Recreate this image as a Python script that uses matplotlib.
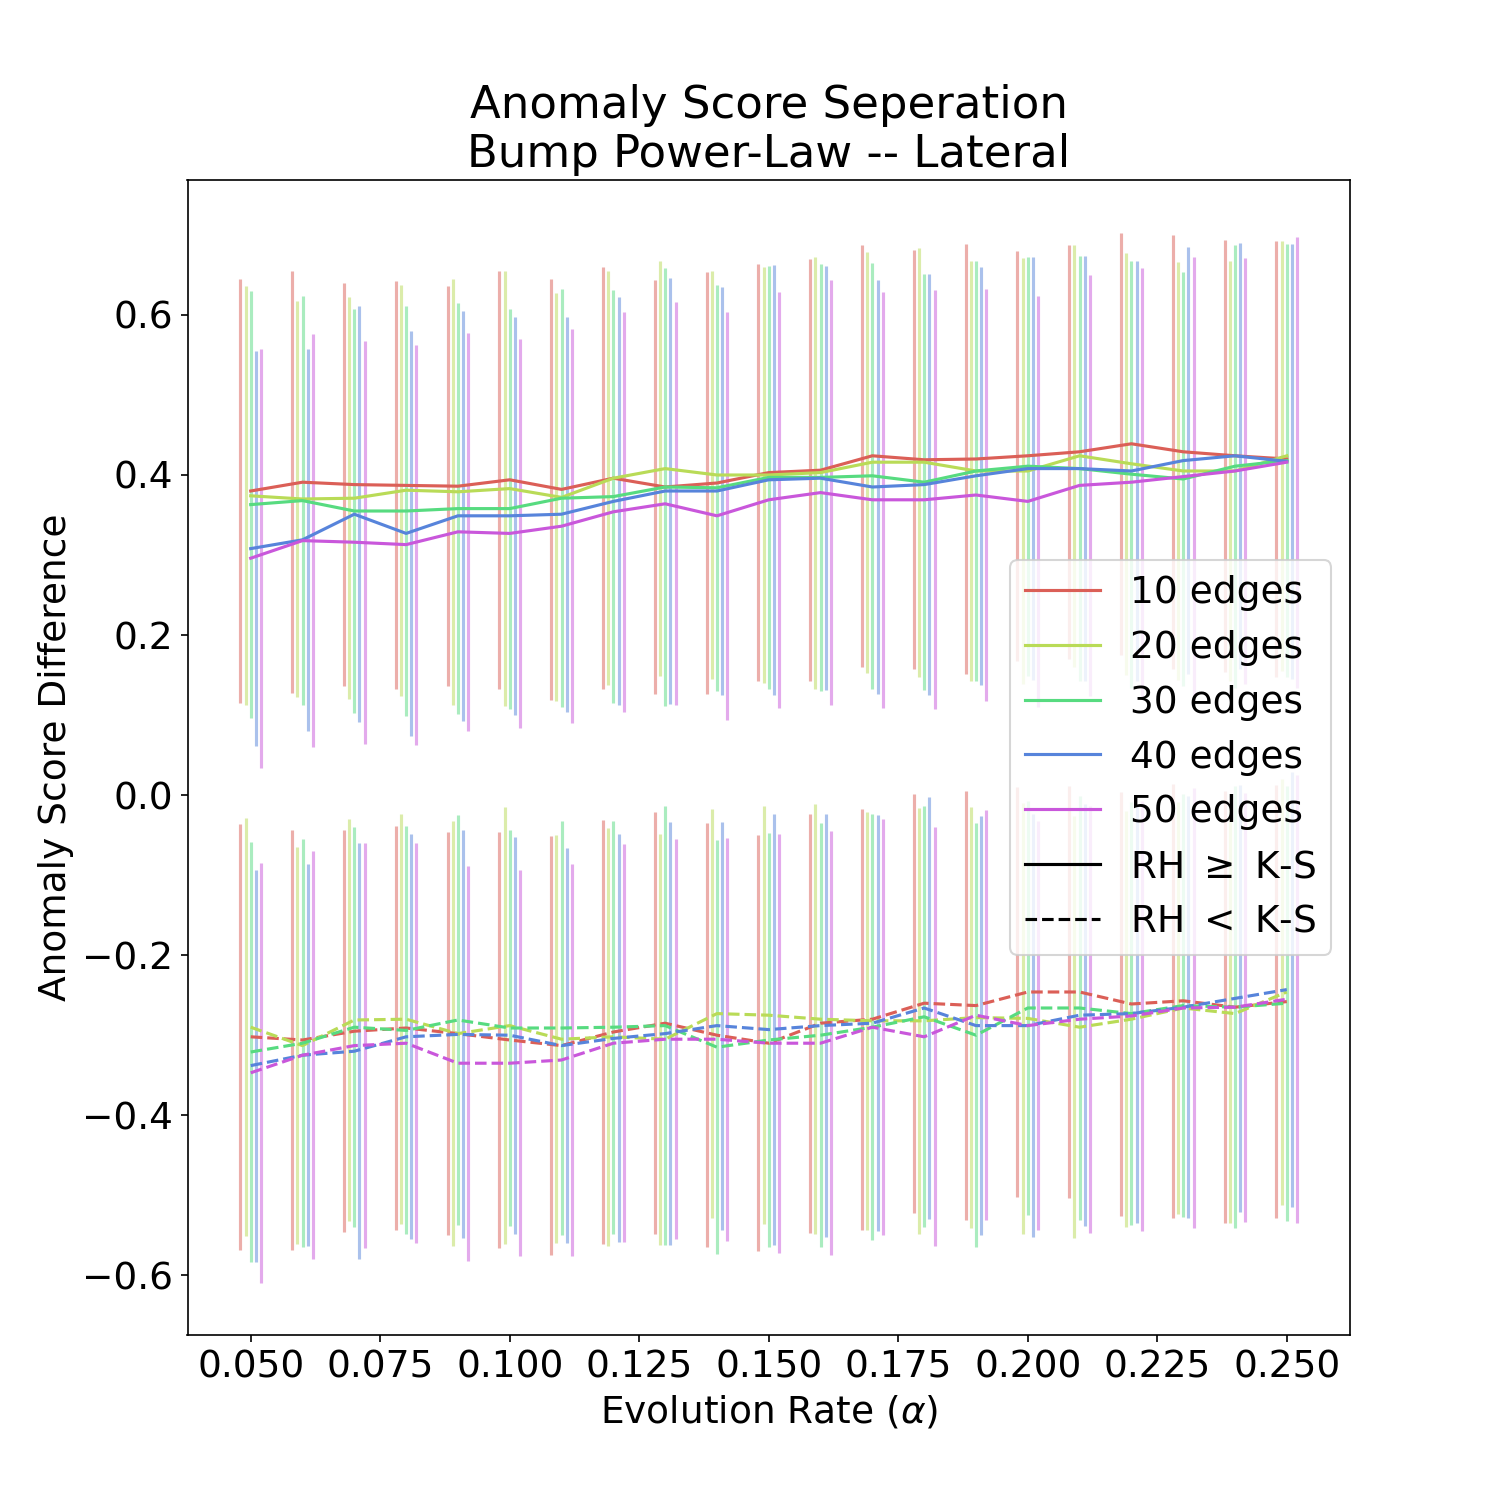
import numpy as np
import matplotlib
matplotlib.use("Agg")
import matplotlib.pyplot as plt
from matplotlib.lines import Line2D

plt.rcParams['font.family'] = ['DejaVu Sans']
plt.rcParams['font.size'] = 18

# Evolution rate values
alphas = [0.05, 0.06, 0.07, 0.08, 0.09, 0.10, 0.11, 0.12, 0.13, 0.14, 0.15,
          0.16, 0.17, 0.18, 0.19, 0.20, 0.21, 0.22, 0.23, 0.24, 0.25]

series_labels = ["10 edges", "20 edges", "30 edges", "40 edges", "50 edges"]
series_colors = ["#db5f57", "#b9db57", "#57db80", "#5784db", "#c957db"]

# RH >= K-S (positive) means
pos_mean_10 = [0.380, 0.391, 0.388, 0.387, 0.386, 0.394, 0.382, 0.396, 0.385, 0.390, 0.403,
               0.406, 0.424, 0.419, 0.420, 0.424, 0.429, 0.439, 0.429, 0.424, 0.420]
pos_mean_20 = [0.374, 0.370, 0.371, 0.381, 0.379, 0.383, 0.372, 0.396, 0.408, 0.400, 0.400,
               0.403, 0.416, 0.416, 0.405, 0.405, 0.424, 0.414, 0.405, 0.405, 0.424]
pos_mean_30 = [0.363, 0.368, 0.355, 0.355, 0.358, 0.358, 0.371, 0.373, 0.385, 0.384, 0.397,
               0.397, 0.399, 0.391, 0.405, 0.411, 0.408, 0.401, 0.395, 0.411, 0.418]
pos_mean_40 = [0.308, 0.319, 0.351, 0.327, 0.349, 0.349, 0.351, 0.367, 0.380, 0.380, 0.394,
               0.396, 0.385, 0.388, 0.399, 0.408, 0.408, 0.405, 0.418, 0.424, 0.417]
pos_mean_50 = [0.296, 0.318, 0.316, 0.313, 0.329, 0.327, 0.336, 0.354, 0.364, 0.349, 0.369,
               0.378, 0.369, 0.369, 0.375, 0.367, 0.387, 0.391, 0.398, 0.405, 0.416]

# RH >= K-S (positive) standard deviations
pos_std_10 = [0.265, 0.264, 0.252, 0.255, 0.250, 0.261, 0.263, 0.264, 0.259, 0.264, 0.261,
              0.264, 0.264, 0.262, 0.269, 0.256, 0.259, 0.264, 0.271, 0.270, 0.272]
pos_std_20 = [0.262, 0.248, 0.251, 0.257, 0.266, 0.272, 0.255, 0.259, 0.259, 0.255, 0.260,
              0.270, 0.263, 0.268, 0.263, 0.266, 0.264, 0.264, 0.261, 0.262, 0.269]
pos_std_30 = [0.267, 0.256, 0.252, 0.256, 0.257, 0.250, 0.261, 0.258, 0.274, 0.254, 0.264,
              0.267, 0.266, 0.260, 0.263, 0.262, 0.266, 0.267, 0.259, 0.277, 0.271]
pos_std_40 = [0.247, 0.239, 0.260, 0.253, 0.256, 0.249, 0.247, 0.255, 0.266, 0.255, 0.269,
              0.265, 0.259, 0.263, 0.261, 0.264, 0.266, 0.263, 0.267, 0.266, 0.272]
pos_std_50 = [0.262, 0.258, 0.252, 0.250, 0.249, 0.243, 0.246, 0.250, 0.252, 0.255, 0.260,
              0.266, 0.260, 0.262, 0.257, 0.257, 0.263, 0.268, 0.274, 0.266, 0.282]

# RH < K-S (negative) means
neg_mean_10 = [-0.302, -0.306, -0.295, -0.291, -0.298, -0.306, -0.313, -0.296, -0.285, -0.300, -0.310,
               -0.285, -0.280, -0.260, -0.263, -0.246, -0.246, -0.261, -0.257, -0.265, -0.258]
neg_mean_20 = [-0.290, -0.313, -0.281, -0.280, -0.298, -0.288, -0.305, -0.302, -0.305, -0.273, -0.275,
               -0.280, -0.282, -0.282, -0.278, -0.279, -0.290, -0.280, -0.266, -0.273, -0.246]
neg_mean_30 = [-0.321, -0.310, -0.290, -0.294, -0.281, -0.291, -0.291, -0.290, -0.288, -0.315, -0.306,
               -0.300, -0.290, -0.277, -0.300, -0.266, -0.266, -0.273, -0.263, -0.265, -0.260]
neg_mean_40 = [-0.338, -0.325, -0.320, -0.302, -0.299, -0.300, -0.313, -0.304, -0.298, -0.288, -0.293,
               -0.288, -0.285, -0.266, -0.288, -0.288, -0.275, -0.273, -0.265, -0.254, -0.243]
neg_mean_50 = [-0.347, -0.325, -0.313, -0.310, -0.335, -0.335, -0.331, -0.310, -0.305, -0.305, -0.310,
               -0.310, -0.290, -0.302, -0.275, -0.288, -0.280, -0.276, -0.266, -0.265, -0.255]

# RH < K-S (negative) standard deviations
neg_std_10 = [0.266, 0.263, 0.251, 0.253, 0.252, 0.260, 0.262, 0.265, 0.264, 0.265, 0.260,
              0.262, 0.263, 0.262, 0.268, 0.256, 0.258, 0.265, 0.271, 0.270, 0.271]
neg_std_20 = [0.261, 0.248, 0.251, 0.256, 0.266, 0.273, 0.255, 0.261, 0.257, 0.256, 0.261,
              0.269, 0.261, 0.266, 0.263, 0.269, 0.264, 0.260, 0.258, 0.262, 0.266]
neg_std_30 = [0.263, 0.255, 0.250, 0.255, 0.256, 0.248, 0.259, 0.258, 0.274, 0.259, 0.259,
              0.265, 0.266, 0.263, 0.265, 0.259, 0.265, 0.264, 0.264, 0.276, 0.272]
neg_std_40 = [0.245, 0.239, 0.260, 0.253, 0.255, 0.248, 0.247, 0.255, 0.264, 0.255, 0.269,
              0.264, 0.260, 0.264, 0.262, 0.264, 0.264, 0.262, 0.264, 0.267, 0.272]
neg_std_50 = [0.262, 0.255, 0.253, 0.250, 0.247, 0.241, 0.245, 0.249, 0.250, 0.252, 0.262,
              0.265, 0.260, 0.262, 0.256, 0.256, 0.267, 0.269, 0.275, 0.268, 0.280]

pos_means = [pos_mean_10, pos_mean_20, pos_mean_30, pos_mean_40, pos_mean_50]
pos_stds = [pos_std_10, pos_std_20, pos_std_30, pos_std_40, pos_std_50]
neg_means = [neg_mean_10, neg_mean_20, neg_mean_30, neg_mean_40, neg_mean_50]
neg_stds = [neg_std_10, neg_std_20, neg_std_30, neg_std_40, neg_std_50]

offsets = [-0.002, -0.001, 0.0, 0.001, 0.002]

fig, ax = plt.subplots(figsize=(10, 10), dpi=150)
x = np.array(alphas)

for i in range(5):
    c = series_colors[i]
    ax.errorbar(x + offsets[i], pos_means[i], yerr=pos_stds[i], fmt='none',
                ecolor=c, alpha=0.5, elinewidth=1.5)
    ax.errorbar(x + offsets[i], neg_means[i], yerr=neg_stds[i], fmt='none',
                ecolor=c, alpha=0.5, elinewidth=1.5)

for i in range(5):
    c = series_colors[i]
    ax.plot(x, pos_means[i], color=c, linestyle='-', linewidth=1.5)
    ax.plot(x, neg_means[i], color=c, linestyle='--', linewidth=1.5)

handles = [Line2D([0], [0], color=series_colors[i], linewidth=1.5) for i in range(5)]
handles.append(Line2D([0], [0], color='black', linestyle='-', linewidth=1.5))
handles.append(Line2D([0], [0], color='black', linestyle='--', linewidth=1.5))
labels = series_labels + [r"RH $\geq$ K-S", r"RH $<$ K-S"]
ax.legend(handles, labels, loc='center right')

ax.set_title("Anomaly Score Seperation\nBump Power-Law -- Lateral")
ax.set_xlabel(r"Evolution Rate ($\alpha$)")
ax.set_ylabel("Anomaly Score Difference")

fig.savefig("out.png", dpi=150)
